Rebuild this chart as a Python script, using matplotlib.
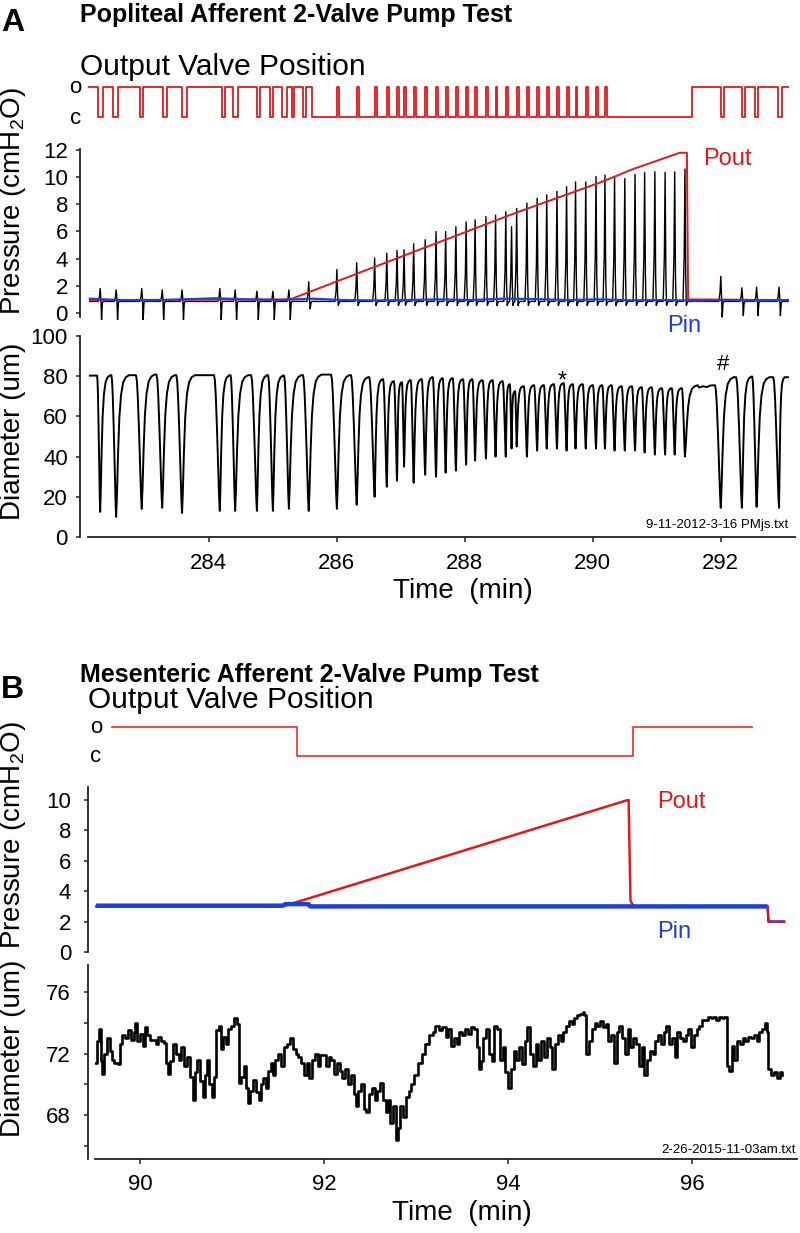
import numpy as np
import matplotlib
matplotlib.use("Agg")
import matplotlib.pyplot as plt

plt.rcParams['font.family'] = ['Liberation Sans', 'DejaVu Sans']
plt.rcParams['mathtext.fontset'] = 'custom'
plt.rcParams['mathtext.rm'] = 'Liberation Sans'
plt.rcParams['mathtext.it'] = 'Liberation Sans:italic'

RED = "#e3171c"
BLUE = "#1f3fd8"

# ---------------- Panel A: popliteal ----------------
# contraction times (min), peak pressure / dip (cmH2O), diameter minimum and diastolic level (um)
tA = [282.30, 282.55, 282.95, 283.27, 283.58, 284.17, 284.41, 284.75, 285.00, 285.25, 285.56,
      286.00, 286.31, 286.59, 286.78, 286.94, 287.05, 287.20, 287.38, 287.55, 287.70,
      287.86, 288.02, 288.16, 288.33, 288.48, 288.64, 288.73, 288.81, 288.97, 289.13,
      289.28, 289.44, 289.59, 289.73, 289.89, 290.05, 290.19, 290.34, 290.50, 290.66,
      290.81, 290.97, 291.13, 291.28, 291.44,
      292.00, 292.33, 292.56, 292.91]
pA_peak = [1.8, 1.7, 1.8, 1.7, 1.7, 1.8, 1.7, 1.6, 1.6, 1.7, 2.3,
           3.2, 3.7, 4.05, 4.4, 4.6, 4.65, 5.1, 5.4, 6.0, 6.0,
           6.35, 6.7, 6.85, 7.1, 7.2, 7.45, 6.35, 7.7, 8.1, 8.45,
           8.7, 8.95, 9.3, 9.65, 9.65, 10.05, 10.15, 10.05, 9.9, 10.2,
           10.35, 10.4, 10.35, 10.4, 10.6,
           2.7, 1.85, 1.9, 1.9]
pA_dip = [-0.5, -0.5, -0.5, -0.5, -0.5, -0.5, -0.5, -0.5, -0.5, -0.5, 0.3,
          0.55, 0.55, 0.55, 0.55, 0.55, 0.55, 0.55, 0.55, 0.55, 0.55,
          0.55, 0.55, 0.55, 0.55, 0.55, 0.55, 0.55, 0.55, 0.55, 0.55,
          0.55, 0.55, 0.55, 0.55, 0.55, 0.55, 0.55, 0.55, 0.55, 0.55,
          0.55, 0.55, 0.55, 0.55, 0.55,
          -0.3, -0.2, -0.2, -0.2]
dA_min = [12.5, 10, 14, 14.5, 12, 13, 13, 13, 13, 14, 13,
          14, 16, 20, 25, 28, 35, 27, 31, 30, 32,
          33, 36, 38, 39, 40, 40, 44, 45, 40, 43,
          44, 44, 43, 44, 44, 44, 44, 43, 43, 43,
          42, 41, 41, 41, 40,
          14.5, 14.5, 15, 14.5]
dA_top = [80.5, 80.5, 80.8, 80.5, 80.5, 80.5, 80.5, 80.5, 80.3, 80.5, 80.8,
          80.5, 79.5, 78.5, 77.5, 77, 78, 78.5, 79.5, 79, 79,
          78.5, 78.5, 78, 78, 77.5, 76, 72.5, 75, 75.5, 75.5,
          76, 76.5, 76, 76, 75.5, 75.5, 75.5, 75, 75, 74.5,
          74.5, 74, 74, 74, 75.5,
          79.5, 79.8, 79.5, 79.5]
# plateau after pumping stops
dA_plat_t = [291.66, 291.72, 291.78, 291.84]
dA_plat_v = [74.3, 75.0, 74.6, 75.4]

pinA_t = [282.14, 282.6, 283.1, 283.6, 284.1, 284.6, 285.1, 285.6, 286.1, 286.6, 287.1, 287.6,
          288.1, 288.6, 289.1, 289.6, 290.1, 290.6, 291.1, 291.6, 292.1, 292.6, 293.05]
pinA_v = [1.05, 0.95, 0.92, 1.0, 1.08, 1.0, 0.95, 1.05, 0.95, 0.92, 0.95, 1.0,
          0.95, 1.05, 1.02, 0.95, 1.0, 0.93, 0.95, 0.9, 0.95, 0.9, 0.95]
poutA_t = [282.14, 285.27, 286.98, 288.81, 290.11, 290.63, 291.36, 291.47, 291.49, 293.05]
poutA_v = [0.95, 1.0, 4.1, 7.4, 9.6, 10.6, 11.8, 11.8, 1.0, 0.95]

# output valve: closing / opening times
valveA_close = [282.27, 282.50, 282.92, 283.28, 283.58, 284.20, 284.38, 284.75, 284.95, 285.14,
                285.30, 285.47, 285.61,
                286.03, 286.34, 286.62, 286.81, 286.97, 287.08, 287.23, 287.41, 287.58, 287.73,
                287.89, 288.05, 288.19, 288.36, 288.51, 288.67, 288.84, 289.00, 289.16, 289.31,
                289.47, 289.62, 289.76, 289.92, 290.08, 290.22,
                292.00, 292.33, 292.53, 292.89]
valveA_open = [282.34, 282.58, 282.97, 283.34, 283.66, 284.25, 284.45, 284.80, 285.00, 285.22,
               285.33, 285.52,
               286.00, 286.31, 286.59, 286.78, 286.94, 287.05, 287.20, 287.38, 287.55, 287.70,
               287.86, 288.02, 288.16, 288.33, 288.48, 288.64, 288.81, 288.97, 289.13, 289.28,
               289.44, 289.59, 289.73, 289.89, 290.05, 290.19,
               291.55, 292.05, 292.38, 292.58, 292.95]

# ---------------- Panel B: mesenteric ----------------
valveB_close = [91.71]
valveB_open = [95.36]
pinB_t = [89.52, 91.55, 91.58, 91.83, 91.85, 96.82, 96.83, 97.0]
pinB_v = [3.05, 3.05, 3.15, 3.15, 3.0, 3.0, 2.0, 2.0]
poutB_t = [89.52, 91.55, 95.30, 95.31, 95.33, 95.36, 96.82, 96.83, 97.0]
poutB_v = [3.0, 3.0, 10.0, 10.0, 3.4, 3.0, 3.0, 2.0, 2.0]

dB_t = [89.51, 89.53, 89.55, 89.57, 89.59, 89.61, 89.64, 89.67, 89.69, 89.72,
        89.76, 89.78, 89.80, 89.84, 89.87, 89.90, 89.93, 89.95, 89.97, 90.00,
        90.03, 90.05, 90.08, 90.11, 90.14, 90.17, 90.20, 90.23, 90.26, 90.28,
        90.30, 90.33, 90.36, 90.39, 90.42, 90.45, 90.48, 90.51, 90.54, 90.57,
        90.60, 90.62, 90.65, 90.68, 90.71, 90.73, 90.75, 90.78, 90.80, 90.83,
        90.86, 90.88, 90.90, 90.93, 90.96, 90.99, 91.02, 91.05, 91.07, 91.10,
        91.13, 91.15, 91.17, 91.20, 91.23, 91.26, 91.29, 91.31, 91.34, 91.37,
        91.39, 91.42, 91.44, 91.47, 91.50, 91.53, 91.56, 91.60, 91.63, 91.66,
        91.69, 91.72, 91.75, 91.78, 91.81, 91.84, 91.87, 91.90, 91.93, 91.96,
        91.99, 92.02, 92.05, 92.08, 92.11, 92.14, 92.17, 92.20, 92.23, 92.26,
        92.29, 92.32, 92.35, 92.37, 92.40, 92.43, 92.46, 92.49, 92.52, 92.55,
        92.58, 92.61, 92.64, 92.67, 92.70, 92.72, 92.75, 92.78, 92.80, 92.83,
        92.86, 92.89, 92.92, 92.95, 92.98, 93.02, 93.06, 93.10, 93.14, 93.18,
        93.21, 93.25, 93.28, 93.32, 93.35, 93.38, 93.41, 93.44, 93.47, 93.50,
        93.53, 93.56, 93.60, 93.63, 93.66, 93.68, 93.70, 93.73, 93.76, 93.79,
        93.82, 93.85, 93.88, 93.91, 93.94, 93.97, 94.00, 94.03, 94.06, 94.09,
        94.12, 94.15, 94.18, 94.21, 94.24, 94.27, 94.30, 94.33, 94.36, 94.39,
        94.42, 94.45, 94.48, 94.51, 94.54, 94.57, 94.60, 94.63, 94.66, 94.69,
        94.72, 94.75, 94.78, 94.81, 94.83, 94.85, 94.88, 94.91, 94.94, 94.97,
        95.00, 95.03, 95.06, 95.09, 95.12, 95.15, 95.18, 95.21, 95.24, 95.27,
        95.30, 95.33, 95.36, 95.39, 95.42, 95.45, 95.48, 95.51, 95.54, 95.57,
        95.60, 95.63, 95.66, 95.69, 95.72, 95.75, 95.78, 95.81, 95.84, 95.87,
        95.90, 95.93, 95.96, 95.99, 96.02, 96.05, 96.08, 96.11, 96.14, 96.17,
        96.20, 96.23, 96.26, 96.29, 96.32, 96.35, 96.38, 96.40, 96.43, 96.46,
        96.49, 96.52, 96.55, 96.58, 96.61, 96.64, 96.67, 96.70, 96.73, 96.76,
        96.79, 96.81, 96.83, 96.86, 96.89, 96.92, 96.95, 96.98]
dB_v = [71.4, 72.8, 73.6, 71.5, 70.7, 72.0, 73.0, 72.2, 71.6, 71.4,
        71.3, 72.6, 73.2, 73.0, 73.5, 72.9, 73.4, 74.0, 72.8, 73.3,
        72.5, 73.7, 73.2, 72.9, 72.9, 72.6, 73.1, 72.8, 72.7, 71.4,
        70.7, 71.5, 72.6, 72.0, 71.6, 72.4, 71.2, 71.8, 70.5, 69.0,
        70.8, 71.6, 70.2, 69.2, 70.6, 71.6, 70.0, 69.2, 70.5, 73.5,
        73.8, 72.3, 73.1, 72.6, 73.6, 73.8, 74.3, 73.9, 70.1, 70.5,
        71.2, 69.8, 68.8, 69.6, 70.3, 69.5, 69.0, 70.0, 70.4, 69.8,
        70.9, 71.4, 70.6, 71.6, 72.0, 71.2, 72.4, 72.6, 73.0, 72.3,
        72.0, 71.8, 71.4, 70.6, 71.4, 70.4, 71.6, 72.0, 71.2, 71.9,
        71.9, 71.2, 71.8, 71.6, 70.7, 71.4, 70.9, 70.4, 71.0, 70.0,
        70.6, 69.4, 68.6, 69.6, 70.0, 68.4, 68.2, 69.4, 69.8, 69.0,
        69.6, 70.1, 69.0, 68.2, 69.0, 67.5, 68.6, 66.4, 67.2, 68.6,
        67.9, 69.2, 69.6, 70.0, 70.6, 71.4, 72.0, 72.6, 73.2, 73.4,
        73.8, 73.5, 73.7, 73.1, 73.6, 72.5, 73.0, 72.6, 73.4, 73.2,
        73.6, 73.3, 73.7, 73.6, 72.4, 71.0, 71.5, 73.0, 73.6, 72.0,
        71.5, 73.8, 73.6, 71.6, 72.4, 70.8, 69.8, 71.0, 72.2, 71.6,
        72.4, 71.3, 72.8, 73.7, 72.0, 71.2, 72.6, 71.6, 72.8, 71.8,
        73.0, 72.4, 71.0, 72.6, 73.2, 72.8, 73.4, 73.8, 74.1, 73.9,
        74.3, 74.5, 74.6, 74.7, 74.5, 72.0, 72.8, 73.6, 74.0, 73.8,
        74.1, 73.7, 73.9, 72.8, 73.2, 71.4, 73.4, 73.8, 73.0, 72.0,
        73.6, 72.4, 73.0, 72.6, 71.2, 72.4, 70.6, 71.6, 72.2, 72.0,
        72.8, 73.2, 72.6, 73.4, 73.8, 72.6, 73.0, 71.8, 73.4, 73.0,
        72.8, 73.2, 73.6, 72.4, 73.2, 73.6, 73.8, 74.2, 74.2, 74.4,
        74.3, 74.4, 74.2, 74.4, 74.3, 74.4, 71.2, 70.9, 72.5, 71.6,
        72.8, 72.6, 73.0, 72.8, 73.1, 73.0, 73.2, 72.8, 73.4, 73.6,
        74.0, 73.4, 71.0, 70.6, 70.8, 70.4, 70.8, 70.6]

# ---------------- helpers ----------------
W, H = 800, 1233
PT = 0.72  # points per pixel at dpi 100


def box(x0, y0, x1, y1):
    return [x0 / W, 1 - y1 / H, (x1 - x0) / W, (y1 - y0) / H]


def ftext(x, y, s, **kw):
    fig.text(x / W, 1 - y / H, s, **kw)


def valve_path(t0, t1, closes, opens):
    xs, ys = [t0], [1]
    for c, o in zip(closes, opens):
        xs += [c, c, o, o]
        ys += [1, 0, 0, 1]
    xs.append(t1)
    ys.append(1)
    return xs, ys


# shape of one contraction (fraction of time window, fraction of depth)
DESC = [(-1.0, 0.0), (-0.85, 0.04), (-0.7, 0.15), (-0.5, 0.38), (-0.3, 0.65),
        (-0.12, 0.9), (0.0, 1.0)]
RISE = [(0.06, 0.85), (0.15, 0.55), (0.25, 0.3), (0.38, 0.14), (0.55, 0.05),
        (0.75, 0.015), (1.0, 0.0)]


def diameter_trace(times, mins, tops, start, t0, t1, extra_t, extra_v):
    pts = [(t0, start)]
    prev = start
    for i, (t, lo, hi) in enumerate(zip(times, mins, tops)):
        gp = t - (times[i - 1] if i else t0)
        gn = (times[i + 1] if i + 1 < len(times) else t1) - t
        d = min(0.09, 0.3 * gp)
        r = min(0.2, 0.62 * gn)
        pts += [(t + f * d, prev - k * (prev - lo)) for f, k in DESC]
        pts += [(t + f * r, hi - k * (hi - lo)) for f, k in RISE]
        prev = hi
    pts += list(zip(extra_t, extra_v))
    pts.append((t1, prev))
    pts.sort()
    return [p[0] for p in pts], [p[1] for p in pts]


def pressure_trace(times, peaks, dips, base, t0, t1):
    xs, ys = [t0], [base]
    for t, pk, dp in zip(times, peaks, dips):
        xs += [t - 0.03, t - 0.012, t, t + 0.012, t + 0.022, t + 0.035, t + 0.05]
        ys += [base, base + 0.35 * (pk - base), pk, base + 0.2 * (pk - base), dp, base - 0.1, base]
    xs.append(t1)
    ys.append(base)
    return xs, ys


def style_axis(ax, out_px, ypad_px, xaxis=False, xpad_px=8):
    ax.patch.set_visible(False)
    for s in ['top', 'right']:
        ax.spines[s].set_visible(False)
    ax.spines['left'].set_position(('outward', out_px * PT))
    ax.spines['left'].set_linewidth(1.3)
    ax.spines['left'].set_color('#222222')
    ax.tick_params(axis='y', which='both', direction='out', length=4 * PT, width=1.1,
                   pad=ypad_px * PT, labelsize=16, color='#222222')
    if xaxis:
        ax.spines['bottom'].set_linewidth(1.3)
        ax.spines['bottom'].set_color('#222222')
        ax.tick_params(axis='x', direction='out', length=5 * PT, width=1.1,
                       pad=xpad_px * PT, labelsize=16, color='#222222')
    else:
        ax.spines['bottom'].set_visible(False)
        ax.set_xticks([])


fig = plt.figure(figsize=(8, 12.33), dpi=100)

# ================= Panel A =================
xlimA = (282.11, 293.16)
axAv = fig.add_axes(box(88, 80, 795, 124))
axAv.set_xlim(*xlimA)
axAv.set_ylim(-0.233, 1.233)
axAv.axis('off')
vx, vy = valve_path(282.11, 293.05, valveA_close, valveA_open)
axAv.plot(vx, vy, color=RED, lw=1.3)

axAp = fig.add_axes(box(88, 148, 795, 320))
axAp.set_xlim(*xlimA)
axAp.set_ylim(-0.52, 12.15)
style_axis(axAp, 8, 8)
axAp.spines['left'].set_bounds(-0.3, 12.1)
axAp.set_yticks(range(0, 13, 2))
px, py = pressure_trace(tA, pA_peak, pA_dip, 0.85, 282.14, 293.05)
axAp.plot(px, py, color='black', lw=1.0)
axAp.plot(poutA_t, poutA_v, color=RED, lw=1.4)
axAp.plot(pinA_t, pinA_v, color=BLUE, lw=1.6)

axAd = fig.add_axes(box(88, 336, 795, 537))
axAd.set_xlim(*xlimA)
axAd.set_ylim(0, 100)
style_axis(axAd, 8, 8, xaxis=True, xpad_px=11)
axAd.set_yticks(range(0, 101, 20))
axAd.set_xticks([284, 286, 288, 290, 292])
dx, dy = diameter_trace(tA, dA_min, dA_top, 80.3, 282.14, 293.05, dA_plat_t, dA_plat_v)
axAd.plot(dx, dy, color='black', lw=1.4)

ftext(1, 31, "A", fontsize=23, fontweight='bold')
ftext(80, 22, "Popliteal Afferent 2-Valve Pump Test", fontsize=18, fontweight='bold')
ftext(80, 75, "Output Valve Position", fontsize=21.5)
ftext(75, 93, "o", fontsize=16, ha='center')
ftext(76, 124, "c", fontsize=16, ha='center')
ftext(13, 201, "Pressure (cmH$_2$O)", fontsize=20, rotation=90, ha='center', va='center')
ftext(13, 431, "Diameter (um)", fontsize=20, rotation=90, ha='center', va='center')
ftext(703, 165, "Pout", fontsize=17, color=RED)
ftext(667, 332, "Pin", fontsize=17, color=BLUE)
ftext(562, 388, "*", fontsize=17, ha='center')
ftext(723, 370, "#", fontsize=16, ha='center')
ftext(788, 528, "9-11-2012-3-16 PMjs.txt", fontsize=9.5, ha='right')
ftext(463, 598, "Time  (min)", fontsize=20, ha='center')

# ================= Panel B =================
xlimB = (89.51, 97.14)
axBv = fig.add_axes(box(95, 720, 797, 763))
axBv.set_xlim(*xlimB)
axBv.set_ylim(-0.24, 1.24)
axBv.axis('off')
vx, vy = valve_path(89.70, 96.65, valveB_close, valveB_open)
axBv.plot(vx, vy, color='#ec3b3b', lw=1.3)

axBp = fig.add_axes(box(95, 787, 797, 952))
axBp.set_xlim(*xlimB)
axBp.set_ylim(0, 10.86)
style_axis(axBp, 7, 13)
axBp.set_yticks(range(0, 11, 2))
axBp.plot(poutB_t, poutB_v, color=RED, lw=1.8)
axBp.plot(pinB_t[:6], pinB_v[:6], color=BLUE, lw=3.2, solid_capstyle='butt')
axBp.plot(pinB_t[5:], pinB_v[5:], color=BLUE, lw=1.6)
axBp.plot(poutB_t[6:], poutB_v[6:], color=RED, lw=1.2)

axBd = fig.add_axes(box(95, 965, 797, 1159))
axBd.set_xlim(*xlimB)
axBd.set_ylim(65.16, 77.75)
style_axis(axBd, 7, 13, xaxis=True, xpad_px=10)
axBd.set_yticks([68, 72, 76])
axBd.set_yticks([66, 70, 74], minor=True)
axBd.set_xticks([90, 92, 94, 96])
axBd.plot(dB_t, dB_v, color='black', lw=1.9, drawstyle='steps-post')

ftext(1, 698, "B", fontsize=23, fontweight='bold')
ftext(80, 682, "Mesenteric Afferent 2-Valve Pump Test", fontsize=18, fontweight='bold')
ftext(88, 708, "Output Valve Position", fontsize=21.5)
ftext(96, 733, "o", fontsize=16, ha='center')
ftext(96, 762, "c", fontsize=16, ha='center')
ftext(13, 835, "Pressure (cmH$_2$O)", fontsize=20, rotation=90, ha='center', va='center')
ftext(13, 1048, "Diameter (um)", fontsize=20, rotation=90, ha='center', va='center')
ftext(657, 808, "Pout", fontsize=17, color=RED)
ftext(657, 938, "Pin", fontsize=17, color=BLUE)
ftext(796, 1153, "2-26-2015-11-03am.txt", fontsize=9.5, ha='right')
ftext(462, 1220, "Time  (min)", fontsize=20, ha='center')

fig.savefig("out.png", dpi=100)
